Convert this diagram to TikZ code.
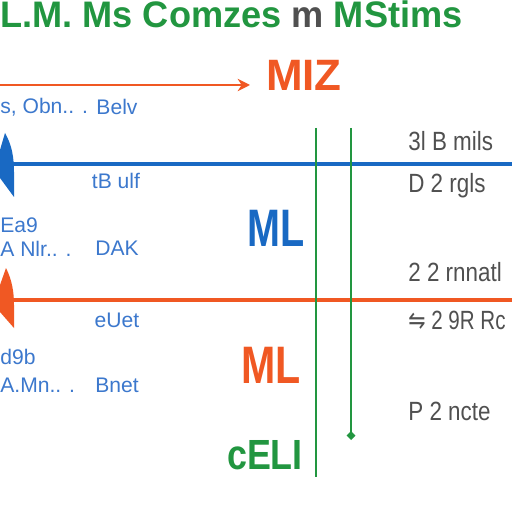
\documentclass[tikz,border=0pt]{standalone}
\usepackage{fontspec}
\setmainfont{Liberation Sans}
\newfontfamily\symfont{DejaVu Sans}
\usetikzlibrary{arrows.meta}

\definecolor{tgreen}{RGB}{34,150,64}
\definecolor{torange}{RGB}{240,88,35}
\definecolor{tblue}{RGB}{25,105,195}
\definecolor{lblue}{RGB}{60,120,205}
\definecolor{tgray}{RGB}{80,80,80}

\tikzset{
  bigword/.style={font=\fontsize{30}{32}\selectfont\bfseries},
  note/.style={text=lblue, font=\fontsize{12}{13}\selectfont},
  side/.style={text=tgray, font=\fontsize{15}{16}\selectfont, anchor=west},
  rule/.style={line width=2.3pt},
  stem/.style={tgreen, line width=1.1pt}
}

\begin{document}
\begin{tikzpicture}[x=0.2mm, y=-0.2mm, every node/.style={inner sep=0pt}]
  \useasboundingbox[fill=white] (0,0) rectangle (512,512);

  % nadpis
  \node[anchor=base west, text=tgreen, font=\fontsize{21}{23}\selectfont\bfseries] (title) at (0,28)
    {\scalebox{0.98}[1]{L.M. Ms Comzes \textcolor{tgray}{m} MStims}};

  % horni sipka a MIZ
  \coordinate (topa) at (0,85);
  \coordinate (topb) at (250,85);
  \draw[torange, line width=1.6pt, -{Stealth[length=7pt,width=7pt]}] (topa) -- (topb);
  \node[bigword, text=torange, font=\fontsize{25}{27}\selectfont\bfseries] (miz) at (304,75) {MIZ};

  % vodorovne cary
  \coordinate (bla) at (10,164);
  \coordinate (blb) at (512,164);
  \coordinate (ora) at (10,300);
  \coordinate (orb) at (512,300);
  \draw[rule, tblue] (bla) -- (blb);
  \draw[rule, torange] (ora) -- (orb);
  \fill[tblue] (0,150) -- (5,133) .. controls (12,145) and (14,158) .. (14,172) -- (14,197) -- (0,178) -- cycle;
  \fill[torange] (0,285) -- (6,268) .. controls (12,280) and (14,292) .. (14,305) -- (14,328) -- (0,312) -- cycle;

  % svisle zelene cary
  \coordinate (gaa) at (316,128);
  \coordinate (gab) at (316,477);
  \coordinate (gba) at (351,128);
  \coordinate (gbb) at (351,440);
  \draw[stem] (gaa) -- (gab);
  \draw[stem, -{Diamond[length=5pt,width=5pt]}] (gba) -- (gbb);

  % velke napisy
  \node[bigword, text=tblue] (mlb) at (276,228) {\scalebox{0.75}[1]{ML}};
  \node[bigword, text=torange] (mlo) at (271,365) {\scalebox{0.78}[1]{ML}};
  \node[bigword, text=tgreen, font=\fontsize{24}{26}\selectfont\bfseries] (celi) at (265,455) {\scalebox{0.85}[1]{cELI}};

  % modre popisky vlevo
  \node[note, anchor=west] (la) at (0,107) {s, Obn.. .};
  \node[note] (lb) at (117,107) {Belv};
  \node[note] (lc) at (116,181) {tB ulf};
  \node[note, anchor=west] (ld) at (0,225) {Ea9};
  \node[note, anchor=west] (le) at (0,249) {A Nlr.. .};
  \node[note] (lf) at (117,248) {DAK};
  \node[note] (lg) at (117,320) {eUet};
  \node[note, anchor=west] (lh) at (0,357) {d9b};
  \node[note, anchor=west] (li) at (0,385) {A.Mn.. .};
  \node[note] (lj) at (117,385) {Bnet};

  % sede popisky vpravo
  \node[side] (ra) at (408,141) {\scalebox{0.85}[1]{3l B mils}};
  \node[side] (rb) at (408,186) {\scalebox{0.85}[1]{D 2 rgls}};
  \node[side] (rc) at (408,272) {\scalebox{0.85}[1]{2 2 rnnatl}};
  \node[side] (rd) at (408,320) {\scalebox{0.78}[1]{{\symfont ⇋} 2 9R Rc}};
  \node[side] (re) at (408,411) {\scalebox{0.85}[1]{P 2 ncte}};
\end{tikzpicture}
\end{document}
